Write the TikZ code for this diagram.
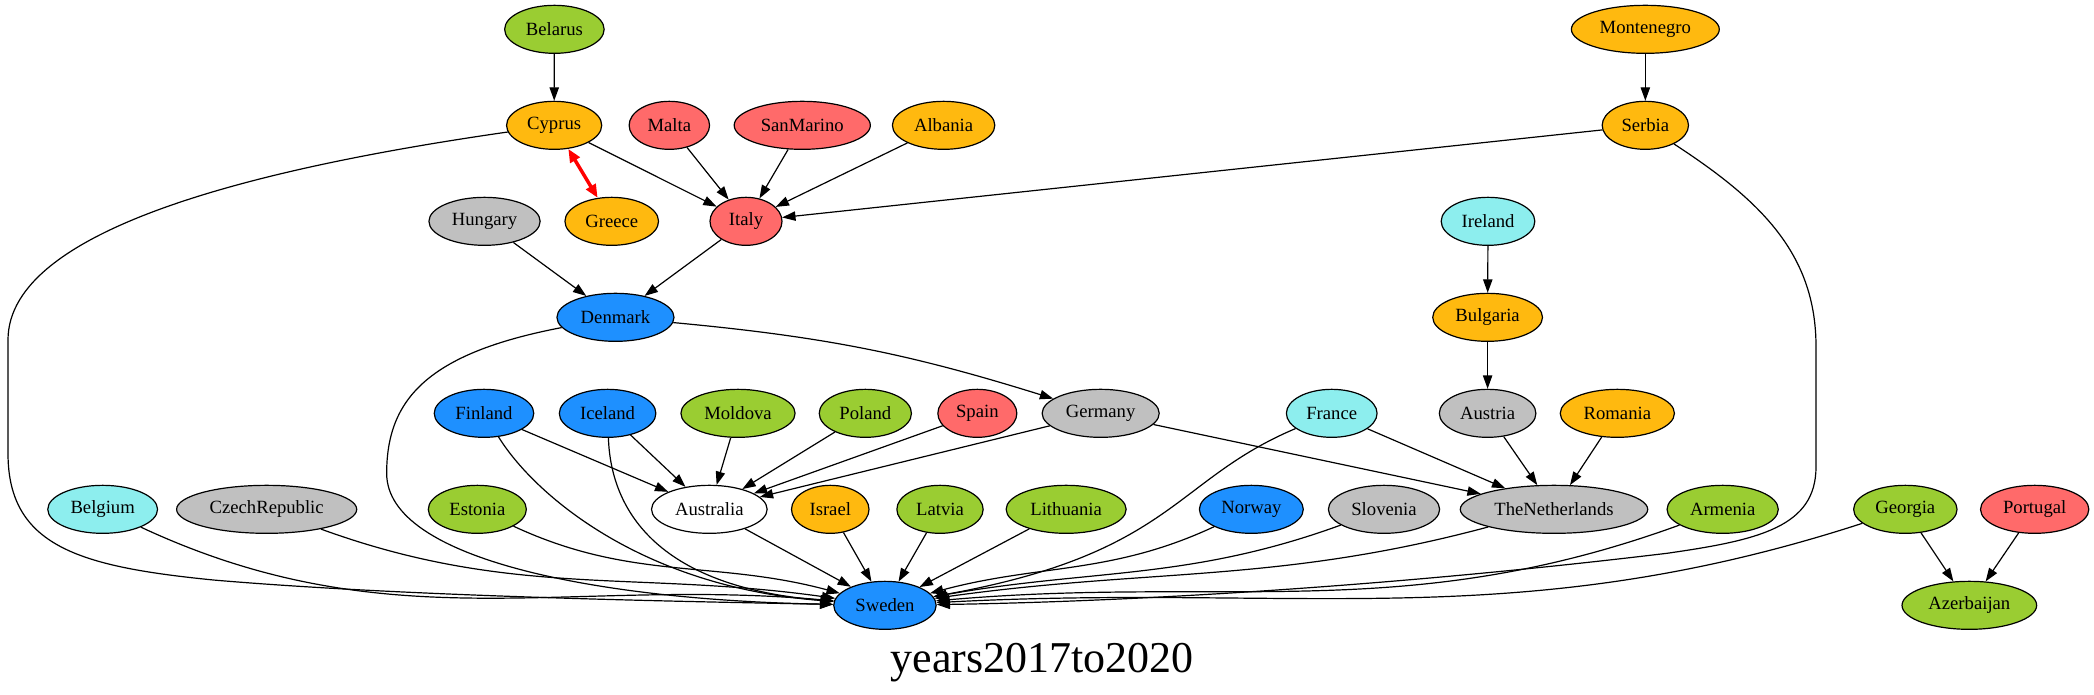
\documentclass[tikz,border=0pt]{standalone}
\usepackage{fontspec}
\setmainfont{Liberation Serif}
\usetikzlibrary{arrows.meta,shapes.geometric}

\definecolor{cgreen}{HTML}{9ACD32}
\definecolor{cgold}{HTML}{FFB90F}
\definecolor{cred}{HTML}{FF6A6A}
\definecolor{cblue}{HTML}{1E90FF}
\definecolor{ccyan}{HTML}{8DEEEE}
\definecolor{cgrey}{HTML}{C0C0C0}

\tikzset{
  cty/.style={ellipse, draw, line width=0.9pt, minimum width=54pt, minimum height=36pt,
    inner xsep=5pt, inner ysep=2pt, font=\fontsize{14}{16}\selectfont},
  gn/.style={cty, fill=cgreen},
  gd/.style={cty, fill=cgold},
  rd/.style={cty, fill=cred},
  bl/.style={cty, fill=cblue},
  cy/.style={cty, fill=ccyan},
  gy/.style={cty, fill=cgrey},
  wh/.style={cty, fill=white},
  link/.style={-{Triangle[length=10pt,width=7pt]}, line width=0.9pt},
  tie/.style={{Triangle[length=10pt,width=8pt]}-{Triangle[length=10pt,width=8pt]}, red, line width=2.6pt}
}

\begin{document}
\begin{tikzpicture}[x=1pt, y=1pt]
    \useasboundingbox (0,0) rectangle (1570.5,-521.25);

    % Define nodes
    \node[gn] (Belarus)    at (415.8,-22) {Belarus};
    \node[gd] (Montenegro) at (1234,-22)  {Montenegro};

    \node[gd] (Cyprus)    at (415.6,-94) {Cyprus};
    \node[rd] (Malta)     at (502,-94)   {Malta};
    \node[rd] (SanMarino) at (601.7,-94) {SanMarino};
    \node[gd] (Albania)   at (707.7,-94) {Albania};
    \node[gd] (Serbia)    at (1234,-94)  {Serbia};

    \node[gy] (Hungary) at (363.4,-166) {Hungary};
    \node[gd] (Greece)  at (458.8,-166) {Greece};
    \node[rd] (Italy)   at (559.5,-166) {Italy};
    \node[cy] (Ireland) at (1116,-166)  {Ireland};

    \node[bl] (Denmark)  at (461.6,-238)  {Denmark};
    \node[gd] (Bulgaria) at (1115.7,-238) {Bulgaria};

    \node[bl] (Finland) at (363,-310)    {Finland};
    \node[bl] (Iceland) at (455.7,-310)  {Iceland};
    \node[gn] (Moldova) at (553.5,-310)  {Moldova};
    \node[gn] (Poland)  at (649,-310)    {Poland};
    \node[rd] (Spain)   at (733,-310)    {Spain};
    \node[gy] (Germany) at (825.5,-310)  {Germany};
    \node[cy] (France)  at (998.8,-310)  {France};
    \node[gy] (Austria) at (1115.7,-310) {Austria};
    \node[gd] (Romania) at (1213,-310)   {Romania};

    \node[cy] (Belgium)        at (77,-382)     {Belgium};
    \node[gy] (CzechRepublic)  at (200,-382)    {CzechRepublic};
    \node[gn] (Estonia)        at (358,-382)    {Estonia};
    \node[wh] (Australia)      at (532,-382)    {Australia};
    \node[gd] (Israel)         at (622.7,-382)  {Israel};
    \node[gn] (Latvia)         at (705,-382)    {Latvia};
    \node[gn] (Lithuania)      at (799.6,-382)  {Lithuania};
    \node[bl] (Norway)         at (938.5,-382)  {Norway};
    \node[gy] (Slovenia)       at (1038,-382)   {Slovenia};
    \node[gy] (TheNetherlands) at (1165.5,-382) {TheNetherlands};
    \node[gn] (Armenia)        at (1292,-382)   {Armenia};
    \node[gn] (Georgia)        at (1429,-382)   {Georgia};
    \node[rd] (Portugal)       at (1526,-382)   {Portugal};

    \node[bl] (Sweden)     at (663.7,-454) {Sweden};
    \node[gn] (Azerbaijan) at (1477,-454)  {Azerbaijan};

    \node[anchor=base, font=\fontsize{33}{40}\selectfont] (title) at (781.5,-504.5) {years2017to2020};

    % Connect nodes
    \foreach \a/\b in {Belarus/Cyprus, Montenegro/Serbia, Cyprus/Italy, Malta/Italy,
        SanMarino/Italy, Albania/Italy, Serbia/Italy, Hungary/Denmark, Italy/Denmark,
        Ireland/Bulgaria, Bulgaria/Austria, Finland/Australia, Iceland/Australia,
        Moldova/Australia, Poland/Australia, Spain/Australia, Germany/Australia,
        Germany/TheNetherlands, France/TheNetherlands, Austria/TheNetherlands,
        Romania/TheNetherlands, Australia/Sweden, Israel/Sweden, Latvia/Sweden,
        Lithuania/Sweden, Georgia/Azerbaijan, Portugal/Azerbaijan}
      \draw[link] (\a) -- (\b);

    \draw[tie] (Cyprus) -- (Greece);
    \draw[link] (Denmark) to[bend left=6] (Germany);

    \draw[link] (Belgium) to[out=-25, in=175] (Sweden);
    \draw[link] (CzechRepublic) to[out=-20, in=172] (Sweden);
    \draw[link] (Estonia) to[out=-25, in=165] (Sweden);
    \draw[link] (Norway) to[out=-155, in=15] (Sweden);
    \draw[link] (Slovenia) to[out=-160, in=10] (Sweden);
    \draw[link] (TheNetherlands) to[out=-165, in=8] (Sweden);
    \draw[link] (Armenia) to[out=-160, in=5] (Sweden);
    \draw[link] (Georgia) to[out=-162, in=3] (Sweden);

    % long curves
    \draw[link] (Cyprus) .. controls (200,-125) and (6,-170) .. (6,-255) -- (6,-340)
      .. controls (6,-410) and (60,-425) .. (160,-435) .. controls (300,-447) and (500,-451) .. (Sweden);
    \draw[link] (Serbia) .. controls (1320,-150) and (1362,-190) .. (1362,-260) -- (1362,-350)
      .. controls (1362,-395) and (1320,-405) .. (1250,-415) .. controls (1000,-445) and (800,-452) .. (Sweden);
    \draw[link] (Denmark) .. controls (320,-265) and (290,-300) .. (290,-355)
      .. controls (290,-420) and (450,-450) .. (Sweden);
    \draw[link] (Finland) .. controls (400,-370) and (480,-440) .. (Sweden);
    \draw[link] (Iceland) .. controls (458,-380) and (490,-440) .. (Sweden);
    \draw[link] (France) .. controls (880,-360) and (880,-415) .. (Sweden);
\end{tikzpicture}
\end{document}
